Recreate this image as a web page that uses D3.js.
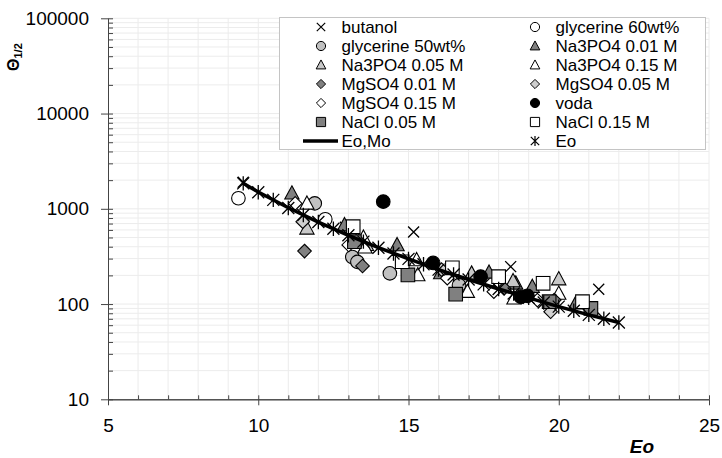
<!DOCTYPE html>
<html>
<head>
<meta charset="utf-8">
<script src="https://cdn.jsdelivr.net/npm/d3@7"></script>
<style>
  body { margin: 0; background: #fff; }
  svg { display: block; font-family: "Liberation Sans", Arial, sans-serif; }
</style>
</head>
<body>
<div id="chart"></div>
<script>
// Theta_1/2 vs Eo scatter, log y axis

// series values, [Eo, Theta]
var butanol      = [[9.5,1900],[12.9,640],[15.17,570],[18.4,247],[21.33,143]];
var glycerine60  = [[9.34,1290],[12.23,776]];
var glycerine50  = [[11.88,1140],[13.13,312],[13.3,277],[14.38,210],[16.68,158]];
var na3po4_001   = [[11.12,1455],[12.87,676],[14.62,417],[16.07,212],[17.68,215],[18.57,165],[19.12,152],[20.57,102]];
var na3po4_005   = [[11.62,624],[13.6,420],[17.1,210],[18.48,175],[20.0,183]];
var na3po4_015   = [[11.62,1140],[13.5,500],[13.55,395],[15.27,290],[15.31,202],[16.96,135],[18.51,115],[20.0,129]];
var mgso4_001    = [[11.54,360],[13.47,251],[18.18,146],[19.85,110]];
var mgso4_005    = [[11.48,732],[13.3,470],[16.1,230],[19.73,83]];
var mgso4_015    = [[11.23,1140],[13.01,417],[16.29,187],[17.84,135],[19.29,110]];
var voda         = [[14.16,1188],[15.82,270],[17.4,194],[18.74,119],[18.96,122]];
var nacl_005     = [[13.2,452],[14.98,202],[16.57,127],[19.68,106],[21.07,90]];
var nacl_015     = [[13.16,649],[14.79,278],[16.46,240],[18.0,194],[19.48,165],[20.79,106]];
var eoMo         = [[9.5,1850],[10,1500],[11,1025],[12,725],[13,525],[14,392],[15,298],[16,230],[17,181],[18,144],[19,116],[20,94],[21,77],[22,64]];
var eo           = [[9.5,1850],[10,1490],[10.5,1240],[11,1020],[11.5,862],[12,728],[12.5,617],[13,528],[13.5,452],[14,390],[14.5,340],[15,298],[15.5,262],[16,230],
                    [16.5,204],[17,181],[17.5,161],[18,144],[18.5,129],[19,116],[19.5,104],[20,94],[20.5,85],[21,77],[21.5,70],[22,64]];

var xTicks = [5,10,15,20,25];
var yTicks = [10,100,1000,10000,100000];

// series table: name, data, marker, fill (drawing order = legend order)
var series = [
  {name:"butanol",          data:butanol,     shape:"x",        fill:"none"},
  {name:"glycerine 60wt%",  data:glycerine60, shape:"circle",   fill:"#ffffff"},
  {name:"glycerine 50wt%",  data:glycerine50, shape:"circle",   fill:"#c0c0c0"},
  {name:"Na3PO4 0.01 M",    data:na3po4_001,  shape:"triangle", fill:"#808080"},
  {name:"Na3PO4 0.05 M",    data:na3po4_005,  shape:"triangle", fill:"#c8c8c8"},
  {name:"Na3PO4 0.15 M",    data:na3po4_015,  shape:"triangle", fill:"#ffffff"},
  {name:"MgSO4 0.01 M",     data:mgso4_001,   shape:"diamond",  fill:"#808080"},
  {name:"MgSO4 0.05 M",     data:mgso4_005,   shape:"diamond",  fill:"#d0d0d0"},
  {name:"MgSO4 0.15 M",     data:mgso4_015,   shape:"diamond",  fill:"#ffffff"},
  {name:"voda",             data:voda,        shape:"circle",   fill:"#000000"},
  {name:"NaCl 0.05 M",      data:nacl_005,    shape:"square",   fill:"#808080"},
  {name:"NaCl 0.15 M",      data:nacl_015,    shape:"square",   fill:"#ffffff"},
  {name:"Eo,Mo",            data:eoMo,        shape:"line",     fill:"none"},
  {name:"Eo",               data:eo,          shape:"star",     fill:"none"}
];

// marker paths, r = half size
function markerPath(shape, r) {
  switch (shape) {
    case "circle":
      return "M"+r+",0A"+r+","+r+" 0 1,1 "+(-r)+",0A"+r+","+r+" 0 1,1 "+r+",0Z";
    case "square":
      return "M"+(-r)+","+(-r)+"H"+r+"V"+r+"H"+(-r)+"Z";
    case "diamond":
      return "M0,"+(-r)+"L"+r+",0L0,"+r+"L"+(-r)+",0Z";
    case "triangle":
      return "M0,"+(-r*1.1)+"L"+(r*1.05)+","+(r*0.85)+"L"+(-r*1.05)+","+(r*0.85)+"Z";
    case "x":
      return "M"+(-r)+","+(-r)+"L"+r+","+r+"M"+(-r)+","+r+"L"+r+","+(-r);
    case "star":
      return "M"+(-r)+","+(-r)+"L"+r+","+r+"M"+(-r)+","+r+"L"+r+","+(-r)+"M0,"+(-r*1.2)+"L0,"+(r*1.2);
  }
  return "";
}

var width = 722, height = 458;
var plot = {left:108, right:709, top:18.3, bottom:399.3};

var svg = d3.select("#chart").append("svg")
  .attr("width",width).attr("height",height);

var xScale = d3.scaleLinear().domain([5,25]).range([plot.left,plot.right]);
var yScale = d3.scaleLog().domain([10,100000]).range([plot.bottom,plot.top]);

// minor values for grid / ticks
var xMinor = d3.range(5,26,1);
var yMinor = [];
yTicks.slice(0,-1).forEach(function(d){ for (var k=1;k<10;k++) yMinor.push(d*k); });
yMinor.push(100000);

// grid lines
var grid = svg.append("g").attr("class","grid-lines");
grid.selectAll(".vg").data(xMinor.slice(1)).enter().append("line")
  .attr("x1",function(d){return xScale(d)}).attr("x2",function(d){return xScale(d)})
  .attr("y1",plot.top).attr("y2",plot.bottom)
  .style("stroke","#ececec").style("stroke-width",1);
grid.selectAll(".hg").data(yMinor.slice(1)).enter().append("line")
  .attr("x1",plot.left).attr("x2",plot.right)
  .attr("y1",function(d){return yScale(d)}).attr("y2",function(d){return yScale(d)})
  .style("stroke","#ececec").style("stroke-width",1);

// axes: minor ticks inside, major ticks outside
var xAxisG = svg.append("g").attr("class","x-axis")
  .attr("transform","translate(0,"+plot.bottom+")");
xAxisG.call(d3.axisBottom(xScale).tickValues(xMinor).tickSize(-4).tickFormat("").tickSizeOuter(0));
xAxisG.append("g").call(d3.axisBottom(xScale).tickValues(xTicks).tickSize(6).tickSizeOuter(0).tickPadding(13));
var yAxisG = svg.append("g").attr("class","y-axis")
  .attr("transform","translate("+plot.left+",0)");
yAxisG.call(d3.axisLeft(yScale).tickValues(yMinor).tickSize(-5).tickFormat("").tickSizeOuter(0));
yAxisG.append("g").call(d3.axisLeft(yScale).tickValues(yTicks).tickSize(7).tickSizeOuter(0)
  .tickPadding(12).tickFormat(d3.format("d")));
svg.selectAll(".x-axis path, .y-axis path, .x-axis line, .y-axis line")
  .style("stroke","#444").style("stroke-width",1);
svg.selectAll(".x-axis text, .y-axis text")
  .style("font-size","19px").style("fill","#000")
  .style("font-family","'Liberation Sans', Arial, sans-serif");

// axis titles
svg.append("text")
  .attr("x",642).attr("y",453)
  .attr("text-anchor","middle")
  .style("font-size","19px").style("font-weight","bold").style("font-style","italic")
  .text("Eo");
var yl = svg.append("text")
  .attr("transform","translate(19,71) rotate(-90)")
  .style("font-weight","bold");
yl.append("tspan").style("font-size","16px").text("\u0398");
yl.append("tspan").attr("dy",3).style("font-size","11px").text("1/2");

// plot the data
var marks = svg.append("g").attr("class","scatter-plot");
var line = d3.line().x(function(d){return xScale(d[0])}).y(function(d){return yScale(d[1])});
series.forEach(function(s){
  if (s.shape == "line") {
    marks.append("path").datum(s.data)
      .attr("d",line).attr("fill","none")
      .attr("stroke","#000").attr("stroke-width",3.5);
    return;
  }
  var r = (s.shape=="x") ? 5.5 : (s.shape=="star") ? 6 : 6.8;
  marks.selectAll(null).data(s.data).enter().append("path")
    .attr("transform",function(d){return "translate("+xScale(d[0])+","+yScale(d[1])+")"})
    .attr("d",markerPath(s.shape,r))
    .attr("fill",s.fill)
    .attr("stroke","#000")
    .attr("stroke-width",(s.shape=="x"||s.shape=="star") ? 1.3 : 1.1);
});

// legend
var legend = svg.append("g").attr("class","legend");
legend.append("rect")
  .attr("x",279.5).attr("y",17.5).attr("width",426).attr("height",132)
  .attr("fill","#fff").attr("stroke","#c4c4c4").attr("stroke-width",1);
series.forEach(function(s,i){
  var col = i%2, row = Math.floor(i/2);
  var cx = col ? 535 : 321, cy = 27 + row*19;
  var g = legend.append("g").attr("transform","translate("+cx+","+cy+")");
  if (s.shape == "line") {
    g.append("line").attr("x1",-18).attr("x2",17).attr("y1",0).attr("y2",0)
      .attr("stroke","#000").attr("stroke-width",3.5);
  } else {
    g.append("path")
      .attr("d",markerPath(s.shape,(s.shape=="x"||s.shape=="star") ? 4.2 : 4.6))
      .attr("fill",s.fill).attr("stroke","#000")
      .attr("stroke-width",(s.shape=="x"||s.shape=="star") ? 1.2 : 1);
  }
  g.append("text").attr("x",20.5).attr("dy","0.36em")
    .style("font-size","17px").text(s.name);
});
</script>
</body>
</html>
